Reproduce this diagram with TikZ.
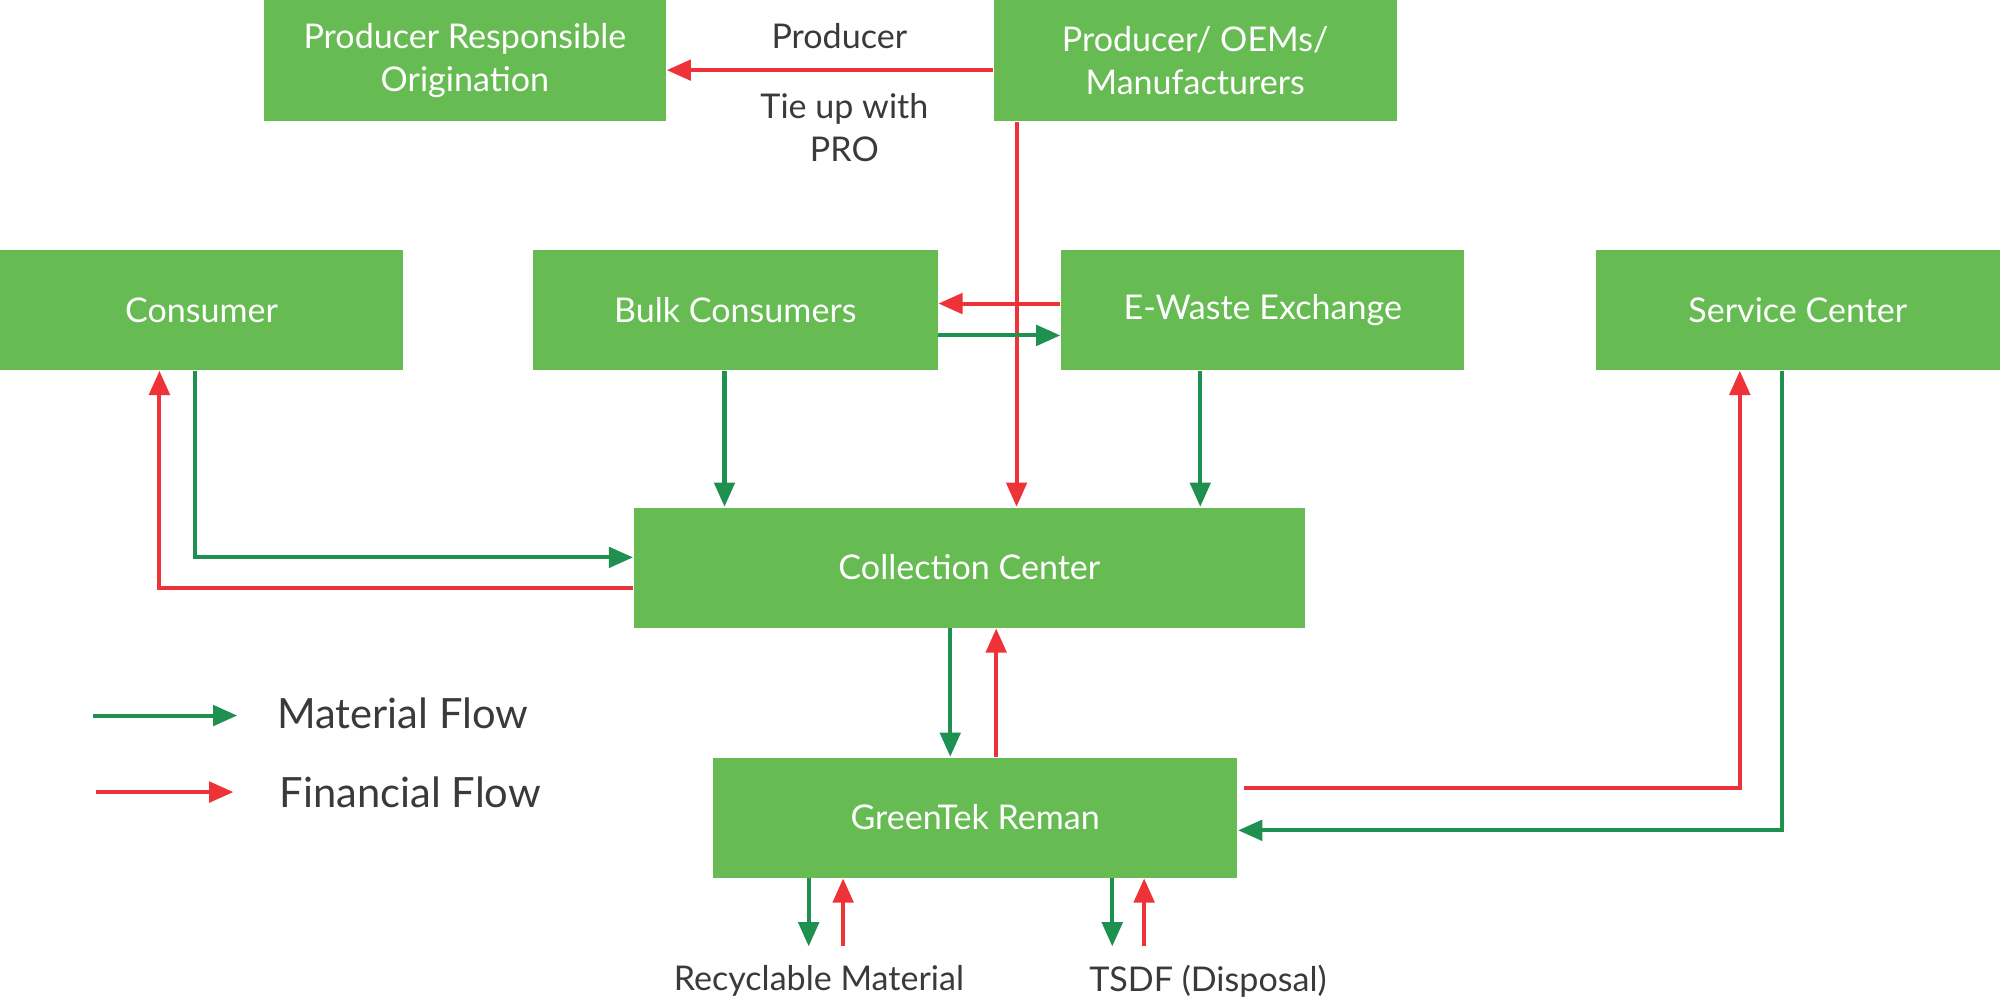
\documentclass[tikz,border=0pt]{standalone}
\usepackage{fontspec}
\setmainfont{Lato}
\usetikzlibrary{arrows.meta}
\definecolor{boxgreen}{HTML}{66BB52}
\definecolor{flowgreen}{HTML}{1E9150}
\definecolor{flowred}{HTML}{EE3338}
\definecolor{labelgray}{HTML}{3A3A3A}
\tikzset{
  blk/.style={fill=boxgreen, text=white, align=center, inner sep=0pt, font=\fontsize{7.6}{9.6}\selectfont},
  mat/.style={draw=flowgreen, line width=0.9pt, -{Triangle[length=0.19cm,width=0.16cm]}},
  fin/.style={draw=flowred, line width=0.9pt, -{Triangle[length=0.19cm,width=0.16cm]}},
  lbl/.style={text=labelgray, font=\fontsize{7.6}{9.6}\selectfont, align=center}
}
\begin{document}
\begin{tikzpicture}
        \useasboundingbox (0,2.16) rectangle (15.68,9.99);
        % Top row
        \node[blk, minimum width=3.15cm, minimum height=0.95cm] (pro) at (3.645,9.515) {Producer Responsible\\Origination};
        \node[blk, minimum width=3.16cm, minimum height=0.95cm] (oem) at (9.37,9.515) {Producer/ OEMs/\\Manufacturers};
        \node[lbl] (prolbl) at (6.58,9.71) {Producer};
        \node[lbl] (tielbl) at (6.62,8.99) {Tie up with\\PRO};
        % Middle row
        \node[blk, minimum width=3.16cm, minimum height=0.94cm] (cons) at (1.58,7.56) {Consumer};
        \node[blk, minimum width=3.17cm, minimum height=0.94cm] (bulk) at (5.765,7.56) {Bulk Consumers};
        \node[blk, minimum width=3.16cm, minimum height=0.94cm] (exch) at (9.90,7.56) {E-Waste Exchange};
        \node[blk, minimum width=3.17cm, minimum height=0.94cm] (serv) at (14.095,7.56) {Service Center};
        % Centre
        \node[blk, minimum width=5.26cm, minimum height=0.94cm] (coll) at (7.60,5.54) {Collection Center};
        \node[blk, minimum width=4.11cm, minimum height=0.94cm] (gtr) at (7.645,3.58) {GreenTek Reman};
        % Bottom outputs
        \coordinate (recy) at (6.475,2.57);
        \coordinate (tsdf) at (8.845,2.57);
        \node[lbl] (recylbl) at (6.42,2.30) {Recyclable Material};
        \node[lbl] (tsdflbl) at (9.47,2.30) {TSDF (Disposal)};
        % Legend
        \coordinate (matA) at (0.73,4.38);
        \coordinate (matB) at (1.86,4.38);
        \coordinate (finA) at (0.75,3.78);
        \coordinate (finB) at (1.83,3.78);
        \node[lbl, anchor=west, font=\fontsize{9.3}{11}\selectfont] (matlbl) at (2.05,4.40) {Material Flow};
        \node[lbl, anchor=west, font=\fontsize{9.3}{11}\selectfont] (finlbl) at (2.07,3.78) {Financial Flow};
        \draw[mat] (matA) -- (matB);
        \draw[fin] (finA) -- (finB);
        % Flows
        \draw[fin] (oem.west |- 0,9.44) -- (pro.east |- 0,9.44);
        \draw[fin] (7.97,0 |- oem.south) -- (7.97,0 |- coll.north);
        \draw[fin] (exch.west |- 0,7.61) -- (bulk.east |- 0,7.61);
        \draw[mat] (bulk.east |- 0,7.36) -- (exch.west |- 0,7.36);
        \draw[mat] (5.68,0 |- bulk.south) -- (5.68,0 |- coll.north);
        \draw[mat] (9.41,0 |- exch.south) -- (9.41,0 |- coll.north);
        \draw[mat] (1.53,0 |- cons.south) |- (coll.west |- 0,5.62);
        \draw[fin] (coll.west |- 0,5.38) -| (1.25,0 |- cons.south);
        \draw[mat] (7.45,0 |- coll.south) -- (7.45,0 |- gtr.north);
        \draw[fin] (7.81,0 |- gtr.north) -- (7.81,0 |- coll.south);
        \draw[fin] (9.75,3.81) -| (13.64,0 |- serv.south);
        \draw[mat] (13.97,0 |- serv.south) |- (gtr.east |- 0,3.48);
        \draw[mat] (6.34,0 |- gtr.south) -- (6.34,0 |- recy);
        \draw[fin] (recy -| 6.61,0) -- (6.61,0 |- gtr.south);
        \draw[mat] (8.72,0 |- gtr.south) -- (8.72,0 |- tsdf);
        \draw[fin] (tsdf -| 8.97,0) -- (8.97,0 |- gtr.south);
\end{tikzpicture}
\end{document}
